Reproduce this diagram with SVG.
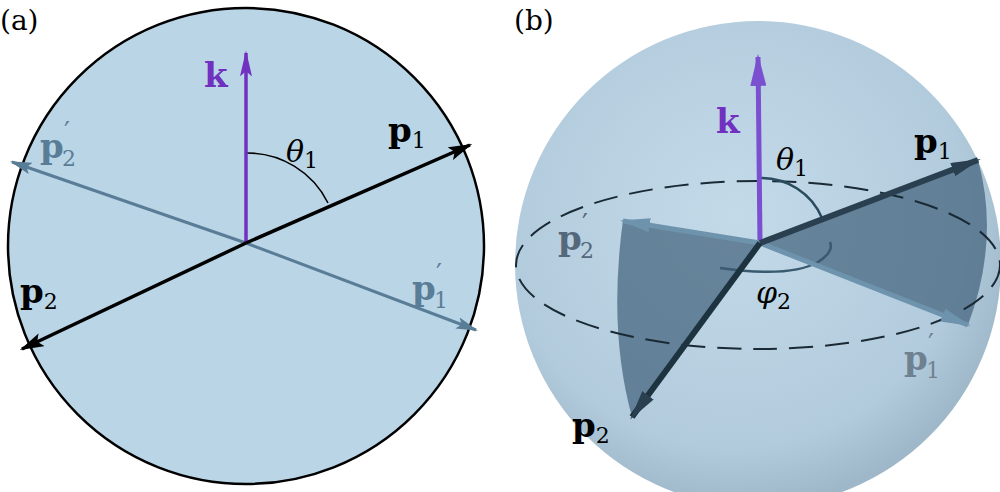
<svg xmlns="http://www.w3.org/2000/svg" width="1000" height="492" viewBox="0 0 1000 492">
<style>
text{font-family:"DejaVu Serif","Liberation Serif",serif;}
.b{font-weight:bold;font-size:34px;}
.s{font-size:22px;}
.pr{font-size:26px;}
.lbl{font-size:28px;}
</style>
<defs>
<marker id="ak" viewBox="0 0 10 8" refX="9" refY="4" markerWidth="26" markerHeight="12" orient="auto" markerUnits="userSpaceOnUse" preserveAspectRatio="none"><path d="M0,0 L10,4 L0,8 L2,4 z" fill="#7030c0"/></marker>
<marker id="ab" viewBox="0 0 10 8" refX="9" refY="4" markerWidth="24" markerHeight="14" orient="auto" markerUnits="userSpaceOnUse" preserveAspectRatio="none"><path d="M0,0 L10,4 L0,8 L2,4 z" fill="#000"/></marker>
<marker id="ag" viewBox="0 0 10 8" refX="9" refY="4" markerWidth="22" markerHeight="12" orient="auto" markerUnits="userSpaceOnUse" preserveAspectRatio="none"><path d="M0,0 L10,4 L0,8 L2,4 z" fill="#5a7d97"/></marker>
<marker id="ak2" viewBox="0 0 10 8" refX="9" refY="4" markerWidth="32" markerHeight="16" orient="auto" markerUnits="userSpaceOnUse" preserveAspectRatio="none"><path d="M0,0 L10,4 L0,8 z" fill="#7a4fd0"/></marker>
<marker id="ad" viewBox="0 0 10 8" refX="9" refY="4" markerWidth="30" markerHeight="14" orient="auto" markerUnits="userSpaceOnUse" preserveAspectRatio="none"><path d="M0,0 L10,4 L0,8 z" fill="#2a4050"/></marker>
<marker id="al" viewBox="0 0 10 8" refX="9" refY="4" markerWidth="30" markerHeight="14" orient="auto" markerUnits="userSpaceOnUse" preserveAspectRatio="none"><path d="M0,0 L10,4 L0,8 z" fill="#6e93ad"/></marker>
<radialGradient id="sph" cx="0.45" cy="0.4" r="0.6"><stop offset="0" stop-color="#c3dae9"/><stop offset="0.8" stop-color="#b2cbdc"/><stop offset="1" stop-color="#9fb8c9"/></radialGradient>
</defs>
<rect width="1000" height="492" fill="#fff"/>
<text x="0" y="30" class="lbl">(a)</text>
<text x="514" y="30" class="lbl">(b)</text>
<g id="panelA">
<circle cx="246" cy="246" r="238" fill="#bad5e6" stroke="#000" stroke-width="2.5"/>
<path d="M246,153 A90,90 0 0 1 328,203" fill="none" stroke="#000" stroke-width="1.5"/>
<g id="connectorsA">
<line x1="246" y1="243" x2="12" y2="162" stroke="#5a7d97" stroke-width="3" marker-end="url(#ag)"/>
<line x1="246" y1="243" x2="476" y2="330" stroke="#5a7d97" stroke-width="3" marker-end="url(#ag)"/>
<line x1="246" y1="243" x2="246" y2="53" stroke="#7030c0" stroke-width="3.5" marker-end="url(#ak)"/>
<line x1="246" y1="243" x2="470" y2="145" stroke="#000" stroke-width="3.5" marker-end="url(#ab)"/>
<line x1="246" y1="243" x2="22" y2="349" stroke="#000" stroke-width="3.5" marker-end="url(#ab)"/>
</g>
<text x="204" y="87" class="b" fill="#7030c0">k</text>
<text x="286" y="162" font-size="30" font-style="italic">θ<tspan font-style="normal" class="s" dy="6">1</tspan></text>
<text x="388" y="142" class="b">p<tspan class="s" font-weight="normal" dy="6">1</tspan></text>
<text x="20" y="303" class="b">p<tspan class="s" font-weight="normal" dy="6">2</tspan></text>
<g fill="#5a7d97"><text x="40" y="158" class="b">p</text><text x="64" y="140" class="pr">′</text><text x="62" y="166" class="s">2</text></g>
<g fill="#5a7d97"><text x="412" y="300" class="b">p</text><text x="436" y="282" class="pr">′</text><text x="434" y="308" class="s">1</text></g>
</g>
<g id="panelB">
<circle cx="758" cy="264" r="243" fill="url(#sph)"/>
<path d="M760,243 L978,160 Q1000,240 968,325 Z" fill="#3e6079" fill-opacity="0.7"/>
<path d="M760,243 L623,220 Q608,330 632,417 Z" fill="#3e6079" fill-opacity="0.7"/>
<ellipse cx="758" cy="265" rx="242" ry="84" fill="none" stroke="#1a2a35" stroke-width="2" stroke-dasharray="24,12"/>
<path d="M760,178 A66,66 0 0 1 822,218" fill="none" stroke="#2a4a5e" stroke-width="2.5"/>
<path d="M720,268 Q790,278 818,262 Q834,252 830,242" fill="none" stroke="#3a5a70" stroke-width="2.5"/>
<g id="connectorsB">
<line x1="760" y1="243" x2="758" y2="57" stroke="#7a4fd0" stroke-width="5" marker-end="url(#ak2)"/>
<line x1="760" y1="243" x2="623" y2="221" stroke="#6e93ad" stroke-width="5" marker-end="url(#al)"/>
<line x1="760" y1="243" x2="968" y2="325" stroke="#6e93ad" stroke-width="5" marker-end="url(#al)"/>
<line x1="760" y1="243" x2="978" y2="160" stroke="#2a4050" stroke-width="6" marker-end="url(#ad)"/>
<line x1="760" y1="243" x2="632" y2="417" stroke="#1e3340" stroke-width="6" marker-end="url(#ad)"/>
</g>
<text x="716" y="133" class="b" fill="#7030c0">k</text>
<text x="776" y="170" font-size="30" font-style="italic">θ<tspan font-style="normal" class="s" dy="6">1</tspan></text>
<text x="914" y="153" class="b">p<tspan class="s" font-weight="normal" dy="6">1</tspan></text>
<text x="572" y="437" class="b">p<tspan class="s" font-weight="normal" dy="6">2</tspan></text>
<text x="756" y="303" font-size="30" font-style="italic">φ<tspan font-style="normal" class="s" dy="6">2</tspan></text>
<g fill="#55677a"><text x="558" y="250" class="b">p</text><text x="582" y="232" class="pr">′</text><text x="580" y="258" class="s">2</text></g>
<g fill="#6f8090"><text x="904" y="370" class="b">p</text><text x="928" y="352" class="pr">′</text><text x="926" y="378" class="s">1</text></g>
</g>
</svg>
